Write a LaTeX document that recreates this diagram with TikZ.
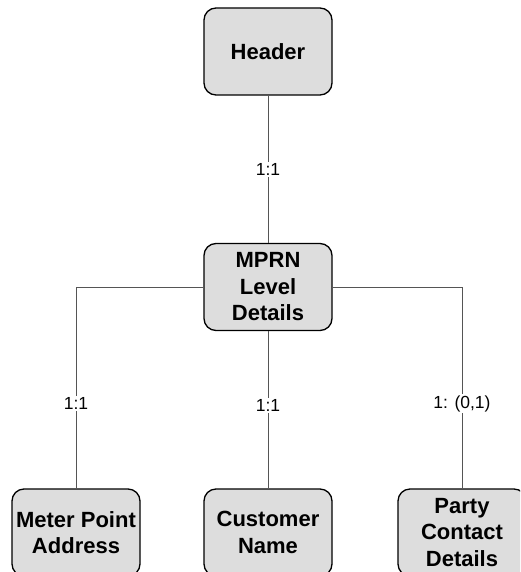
\documentclass[tikz,border=0pt]{standalone}
\usepackage{fontspec}
\setmainfont{Liberation Sans}
\definecolor{boxfill}{HTML}{DDDDDD}
\definecolor{linkcol}{HTML}{555555}
\begin{document}
\begin{tikzpicture}[x=1pt,y=-1pt,
  entity/.style={draw=black, line width=1.3pt, fill=boxfill, rounded corners=12pt,
    minimum width=128pt, minimum height=87pt, align=center, inner sep=0pt,
    font=\fontsize{22}{26.5}\selectfont\bfseries},
  link/.style={draw=linkcol, line width=0.9pt},
  card/.style={fill=white, inner sep=1.5pt, font=\fontsize{17.5}{20}\selectfont}]
\useasboundingbox (0,0) rectangle (520,572);
\clip (0,0) rectangle (520,572);
\node[entity] (header) at (268,51.5) {Header};
\node[entity] (mprn) at (268,287) {MPRN\\Level\\Details};
\node[entity] (meter) at (76,532.5) {Meter Point\\Address};
\node[entity] (customer) at (268,532.5) {Customer\\Name};
\node[entity] (party) at (462,532.5) {Party\\Contact\\Details};
\draw[link] (header) -- node[card] {1:1} (mprn);
\draw[link] (mprn.west) -| node[card, pos=0.79] {1:1} (meter.north);
\draw[link] (mprn) -- node[card, pos=0.47] {1:1} (customer);
\draw[link] (mprn.east) -| node[card, pos=0.79] {1: (0,1)} (party.north);
\end{tikzpicture}
\end{document}
